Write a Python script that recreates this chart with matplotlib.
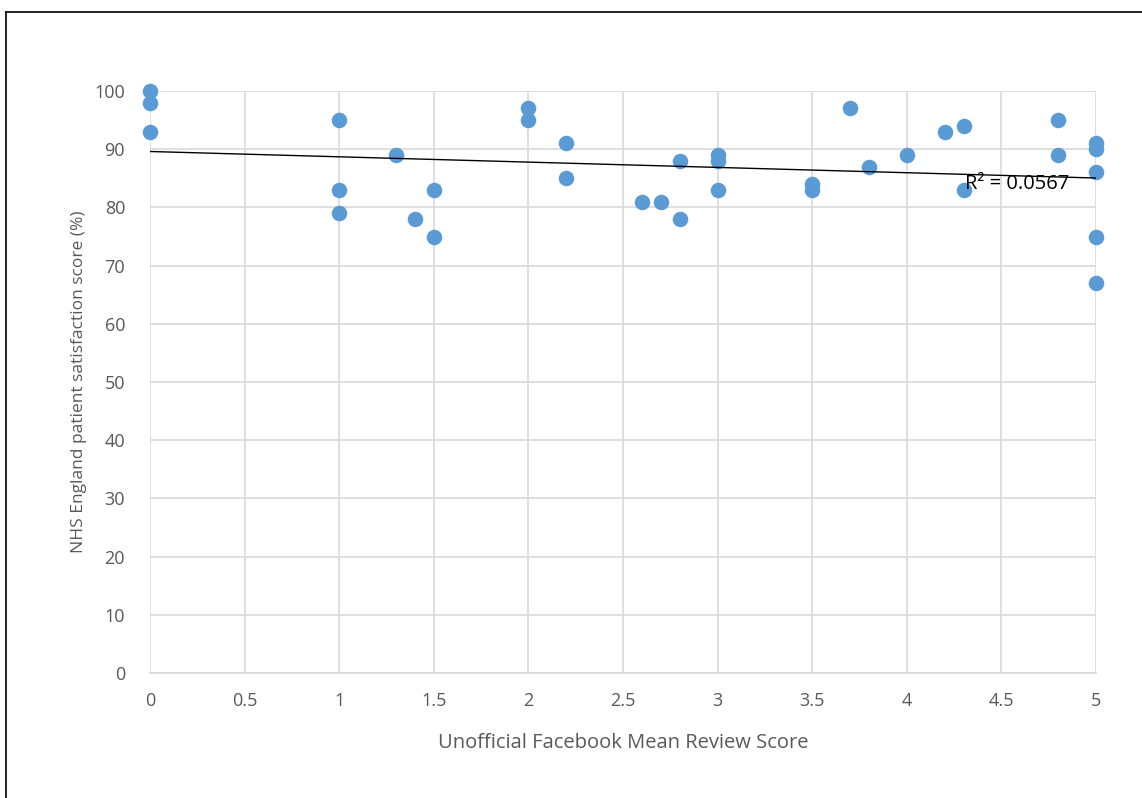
import numpy as np
import matplotlib.pyplot as plt
from matplotlib.lines import Line2D

plt.rcParams['font.family'] = ['Open Sans', 'DejaVu Sans']

# facebook mean review score vs NHS satisfaction
fb_score = [0, 0, 0, 1, 1, 1, 1.3, 1.4, 1.5, 1.5, 2, 2, 2.2, 2.2, 2.6, 2.7,
            2.8, 2.8, 3, 3, 3, 3.5, 3.5, 3.7, 3.8, 4, 4.2, 4.3, 4.3, 4.8,
            4.8, 5, 5, 5, 5, 5]
nhs_score = [100, 98, 93, 95, 83, 79, 89, 78, 83, 75, 97, 95, 91, 85, 81, 81,
             88, 78, 89, 88, 83, 84, 83, 97, 87, 89, 93, 94, 83, 95,
             89, 91, 90, 86, 75, 67]
x_ticks = [0, 0.5, 1, 1.5, 2, 2.5, 3, 3.5, 4, 4.5, 5]
x_labels = ['0', '0.5', '1', '1.5', '2', '2.5', '3', '3.5', '4', '4.5', '5']
y_ticks = list(range(0, 101, 10))
r2_text = 'R² = 0.0567'

fig = plt.figure(figsize=(11.42, 7.98), dpi=100)
ax = fig.add_axes([150 / 1142, 1 - 673 / 798, 946 / 1142, 582 / 798])

ax.scatter(fb_score, nhs_score, s=125, color='#5b9bd5', zorder=3,
           linewidths=0, clip_on=False)

# linear trendline
slope, icpt = np.polyfit(fb_score, nhs_score, 1)
xs = np.array([0, 5])
ax.plot(xs, slope * xs + icpt, color='black', lw=1, zorder=4)
ax.text(4.31, 84.0, r2_text, fontsize=14.5, color='black', va='center',
        ha='left', zorder=5)

ax.set_xlim(0, 5)
ax.set_ylim(0, 100)
ax.set_xticks(x_ticks)
ax.set_xticklabels(x_labels)
ax.set_yticks(y_ticks)
ax.grid(True, color='#d9d9d9', lw=1.2)
ax.set_axisbelow(True)
for s in ['top', 'right', 'left']:
    ax.spines[s].set_visible(False)
ax.spines['bottom'].set_color('#d9d9d9')
ax.spines['bottom'].set_linewidth(1.2)
ax.tick_params(length=0, labelsize=13, colors='#595959')
ax.tick_params(axis='x', pad=14)
ax.tick_params(axis='y', pad=18)

ax.set_xlabel('Unofficial Facebook Mean Review Score', fontsize=14.5,
              color='#595959', labelpad=16)
ax.set_ylabel('NHS England patient satisfaction score (%)', fontsize=12.5,
              color='#595959', labelpad=5)

# frame around chart (top and left only visible)
fig.add_artist(Line2D([6 / 1142, 1], [1 - 12 / 798] * 2, color='black', lw=1.2))
fig.add_artist(Line2D([6 / 1142] * 2, [0, 1 - 12 / 798], color='black', lw=1.2))

fig.savefig('out.png', dpi=100)
